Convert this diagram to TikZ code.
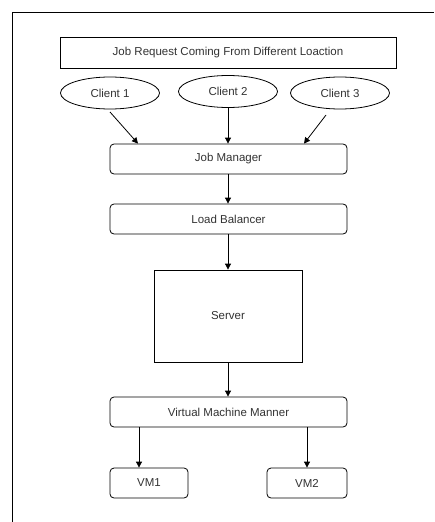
\documentclass[tikz,border=0pt]{standalone}
\usepackage{fontspec}
\setmainfont{Liberation Sans}
\usetikzlibrary{shapes.geometric,arrows.meta}
\definecolor{txt}{HTML}{333333}
\begin{document}
\begin{tikzpicture}[x=1pt,y=-1pt,
  every node/.style={font=\fontsize{11.5}{13}\selectfont,text=txt,inner sep=0pt},
  box/.style={draw=black,line width=0.8pt,rounded corners=4pt},
  sqbox/.style={draw=black,line width=0.8pt},
  cli/.style={draw=black,line width=0.8pt,ellipse,minimum width=99pt,minimum height=32pt},
  arr/.style={-{Triangle[length=6pt,width=6pt]},line width=0.8pt}]
\useasboundingbox (0,0) rectangle (434,522);
\fill[white] (0,0) rectangle (434,522);
\draw[line width=0.8pt] (12,522) -- (12,12) -- (434,12);
\node[sqbox,minimum width=336pt,minimum height=31pt] (req) at (228,52.5) {Job Request Coming From Different Loaction};
\node[cli] (c1) at (110,93) {Client 1};
\node[cli] (c2) at (228,91.5) {Client 2};
\node[cli] (c3) at (340,93) {Client 3};
\node[box,minimum width=237pt,minimum height=30pt] (jm) at (228.5,159) {Job Manager};
\node[box,minimum width=237pt,minimum height=30pt] (lb) at (228.5,219) {Load Balancer};
\node[sqbox,minimum width=148pt,minimum height=92pt] (srv) at (228,316) {Server};
\node[box,minimum width=237pt,minimum height=30pt] (vmm) at (228.5,412) {Virtual Machine Manner};
\node[box,minimum width=78pt,minimum height=30pt] (vm1) at (149,483) {VM1};
\node[box,minimum width=80pt,minimum height=30pt] (vm2) at (307,483) {VM2};
\coordinate (a1s) at (110,112);
\coordinate (a1e) at (138,143.6);
\coordinate (a3s) at (326,115);
\coordinate (a3e) at (304,143.6);
\draw[arr] (a1s) -- (a1e);
\draw[arr] (c2.south) -- (c2.south |- jm.north);
\draw[arr] (a3s) -- (a3e);
\draw[arr] (jm.south -| c2.south) -- (lb.north -| c2.south);
\draw[arr] (lb.south -| srv.north) -- (srv.north);
\draw[arr] (srv.south) -- (srv.south |- vmm.north);
\draw[arr] (vmm.south -| 139,0) -- (vm1.north -| 139,0);
\draw[arr] (vmm.south -| vm2.north) -- (vm2.north);
\end{tikzpicture}
\end{document}
